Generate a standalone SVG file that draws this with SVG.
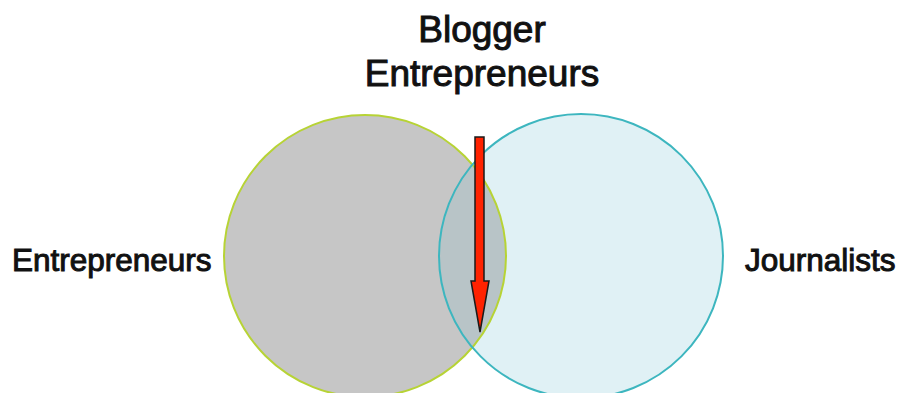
<svg xmlns="http://www.w3.org/2000/svg" width="900" height="393" viewBox="0 0 900 393">
<style>
.lbl{font-family:"Liberation Sans",Arial,sans-serif;fill:#111;stroke:#111;stroke-width:1}
</style>
<defs>
<clipPath id="clipL"><circle cx="365" cy="256" r="141"/></clipPath>
</defs>
<rect width="900" height="393" fill="#fff"/>
<g id="entrepreneurs">
<circle cx="365" cy="256" r="141" fill="#c6c6c6"/>
</g>
<g id="journalists">
<circle cx="581" cy="256" r="142" fill="#e0f1f5"/>
</g>
<g id="overlap">
<circle cx="581" cy="256" r="142" fill="#b8c4c7" clip-path="url(#clipL)"/>
<circle cx="365" cy="256" r="141" fill="none" stroke="#b7d335" stroke-width="2"/>
<circle cx="581" cy="256" r="142" fill="none" stroke="#3db6bf" stroke-width="2"/>
</g>
<g id="labels">
<text class="lbl" x="482" y="42" font-size="37" text-anchor="middle">Blogger</text>
<text class="lbl" x="482" y="86" font-size="37" text-anchor="middle">Entrepreneurs</text>
<text class="lbl" x="12" y="271" font-size="31.5">Entrepreneurs</text>
<text class="lbl" x="745" y="271" font-size="31.5">Journalists</text>
</g>
<g id="connectors">
<polygon points="475,137 484,137 484,281 489,281 480,332 471,281 475,281" fill="#ff2200" stroke="#1a1a1a" stroke-width="1.5" stroke-linejoin="miter"/>
</g>
</svg>
